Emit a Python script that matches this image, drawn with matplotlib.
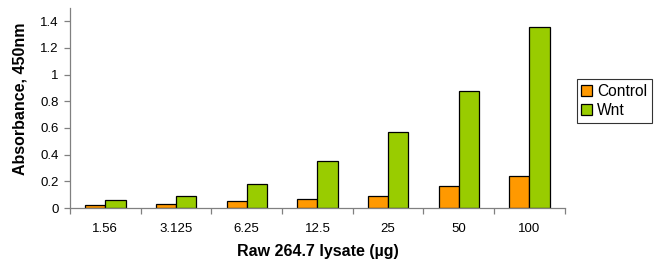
import matplotlib
matplotlib.use("Agg")
import matplotlib.pyplot as plt
import numpy as np
from matplotlib.ticker import FixedLocator

plt.rcParams["font.family"] = ["Liberation Sans", "DejaVu Sans"]

# data
doses = ["1.56", "3.125", "6.25", "12.5", "25", "50", "100"]
control = [0.022, 0.030, 0.052, 0.065, 0.092, 0.165, 0.240]
wnt = [0.057, 0.092, 0.182, 0.350, 0.567, 0.875, 1.358]

ORANGE = "#FF9900"
GREEN = "#99CC00"
AXIS = "#808080"

fig = plt.figure(figsize=(6.7, 2.63), dpi=100)
ax = fig.add_axes([0.1045, 0.209, 0.7385, 0.761])

x = np.arange(len(doses))
w = 0.285
ax.bar(x - w / 2, control, width=w, color=ORANGE, edgecolor="black",
       linewidth=0.9, label="Control")
ax.bar(x + w / 2, wnt, width=w, color=GREEN, edgecolor="black",
       linewidth=0.9, label="Wnt")

ax.set_xlim(-0.5, len(doses) - 0.5)
ax.set_ylim(0, 1.5)
ax.set_yticks([0, 0.2, 0.4, 0.6, 0.8, 1.0, 1.2, 1.4])
ax.set_yticklabels(["0", "0.2", "0.4", "0.6", "0.8", "1", "1.2", "1.4"])
ax.set_xticks(x)
ax.set_xticklabels(doses)
ax.xaxis.set_minor_locator(FixedLocator(np.arange(len(doses) + 1) - 0.5))
ax.tick_params(axis="x", which="major", length=0, pad=11, labelsize=9.5)
ax.tick_params(axis="x", which="minor", length=4, width=0.9, color=AXIS)
ax.tick_params(axis="y", length=4, width=0.9, color=AXIS, labelsize=9.5, pad=4)

for s in ("top", "right"):
    ax.spines[s].set_visible(False)
for s in ("left", "bottom"):
    ax.spines[s].set_color(AXIS)
    ax.spines[s].set_linewidth(0.9)

ax.set_ylabel("Absorbance, 450nm", fontsize=11.5, fontweight="bold")
ax.yaxis.set_label_coords(-0.085, 0.545)
ax.set_xlabel("Raw 264.7 lysate (\u00b5g)", fontsize=11.5, fontweight="bold",
              labelpad=6)

leg = ax.legend(loc="center left", bbox_to_anchor=(1.024, 0.535), fontsize=11.2,
                frameon=True, fancybox=False, edgecolor="black",
                handlelength=0.7, handleheight=0.7, handletextpad=0.3,
                borderpad=0.3, labelspacing=0.3, borderaxespad=0)
leg.get_frame().set_linewidth(0.8)

fig.savefig("out.png", dpi=100)
